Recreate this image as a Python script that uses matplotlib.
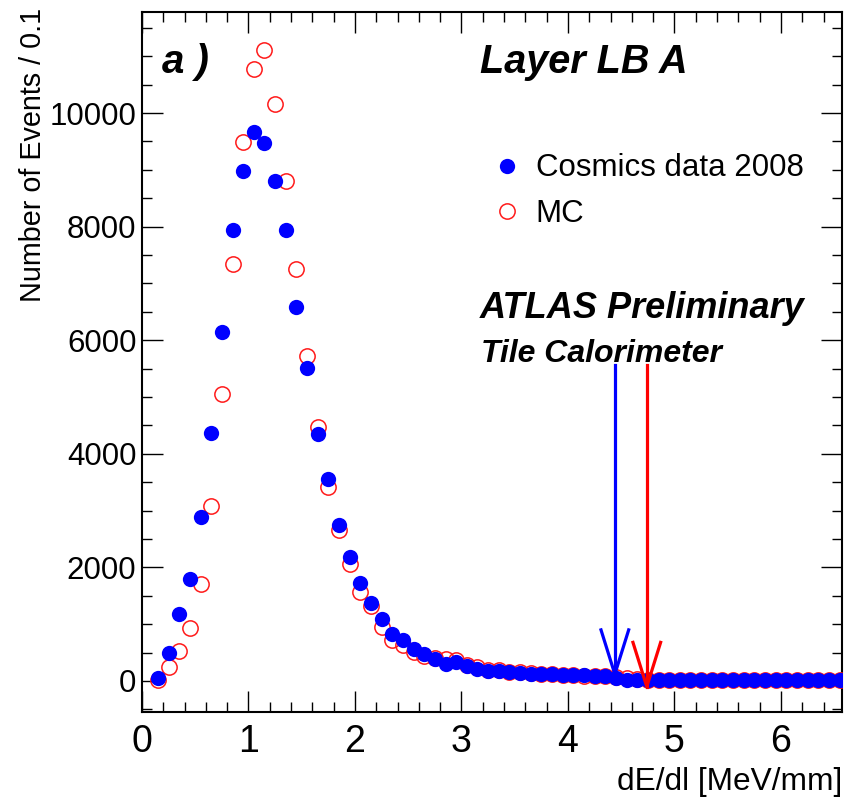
import numpy as np
import matplotlib
matplotlib.use("Agg")
import matplotlib.pyplot as plt
from matplotlib.ticker import MultipleLocator

plt.rcParams['font.family'] = ['Liberation Sans', 'DejaVu Sans']

# bin centres of dE/dl histogram (0.1 MeV/mm bins)
bin_centres = np.round(np.arange(0.15, 6.6, 0.1), 2)

# cosmics data 2008
data_counts = [50, 490, 1180, 1800, 2890, 4370, 6140, 7940, 8980, 9670,
               9470, 8800, 7940, 6580, 5510, 4350, 3560, 2750, 2180, 1730,
               1380, 1090, 830, 720, 560, 475, 385, 300, 330, 265,
               210, 175, 175, 160, 140, 125, 125, 115, 110, 100,
               100, 90, 80, 45, 25, 20, 15] + [10] * 18

# monte carlo
mc_counts = [20, 250, 530, 930, 1710, 3080, 5060, 7340, 9490, 10770,
             11110, 10160, 8800, 7250, 5720, 4470, 3420, 2660, 2060, 1570,
             1320, 950, 720, 630, 510, 440, 400, 380, 370, 280,
             240, 200, 190, 160, 150, 140, 130, 120, 110, 105,
             95, 90, 80, 70, 50, 40, 20] + [10] * 18

# cut positions (data, mc) shown as arrows
cut_data = 4.44
cut_mc = 4.74
arrow_top = 5560
arrow_tip_data = 120
arrow_tip_mc = -100

W, H = 846, 807
fig = plt.figure(figsize=(W / 100, H / 100), dpi=100)
ax = fig.add_axes([142 / W, 1 - 712 / H, 700 / W, 700 / H])

ax.plot(bin_centres, mc_counts, 'o', mfc='none', mec='#ff1a1a', ms=11, mew=1.1,
        label='MC', zorder=3)
ax.plot(bin_centres, data_counts, 'o', color='#0000ff', ms=11, mew=0,
        label='Cosmics data 2008', zorder=4)

# arrows
def draw_arrow(x, tip, col):
    head_w = 0.13
    head_h = 780
    ax.plot([x, x], [arrow_top, tip], color=col, lw=2.3, zorder=5)
    ax.plot([x - head_w, x, x + head_w], [tip + head_h, tip, tip + head_h],
            color=col, lw=2.3, zorder=5, solid_joinstyle='miter')

draw_arrow(cut_data, arrow_tip_data, '#0000ff')
draw_arrow(cut_mc, arrow_tip_mc, '#ff0000')

ax.set_xlim(0, 6.573)
ax.set_ylim(-546, 11780)

ax.xaxis.set_major_locator(MultipleLocator(1))
ax.xaxis.set_minor_locator(MultipleLocator(0.2))
ax.yaxis.set_major_locator(MultipleLocator(2000))
ax.yaxis.set_minor_locator(MultipleLocator(500))
ax.tick_params(which='both', direction='in', top=True, right=True, width=1.0)
ax.tick_params(which='major', length=15)
ax.tick_params(which='minor', length=7.5)
ax.tick_params(axis='x', which='major', labelsize=27, pad=9)
ax.tick_params(axis='y', which='major', labelsize=22.5, pad=4)
for s in ax.spines.values():
    s.set_linewidth(1.5)

fig.text(842 / W, 1 - 790 / H, 'dE/dl [MeV/mm]', fontsize=22.8,
         ha='right', va='baseline')
fig.text(19 / W, 1 - 8 / H, 'Number of Events / 0.1', fontsize=20.7,
         rotation=90, ha='left', va='top')

fig.text(162 / W, 1 - 73 / H, 'a )', fontsize=29, fontweight='bold',
         fontstyle='italic', va='baseline')
fig.text(480 / W, 1 - 73 / H, 'Layer LB A', fontsize=28.5, fontweight='bold',
         fontstyle='italic', va='baseline')
fig.text(480 / W, 1 - 318 / H, 'ATLAS Preliminary', fontsize=26,
         fontweight='bold', fontstyle='italic', va='baseline')
fig.text(481 / W, 1 - 362 / H, 'Tile Calorimeter', fontsize=23,
         fontweight='bold', fontstyle='italic', va='baseline')

h, l = ax.get_legend_handles_labels()
ax.legend(h[::-1], l[::-1], loc='upper left', frameon=False,
          bbox_to_anchor=(491 / W, 1 - 153.5 / H), bbox_transform=fig.transFigure,
          fontsize=22.5, handlelength=1.0, handletextpad=0.43, labelspacing=0.48,
          borderpad=0, borderaxespad=0, markerscale=1.0)

fig.savefig('out.png', dpi=100)
